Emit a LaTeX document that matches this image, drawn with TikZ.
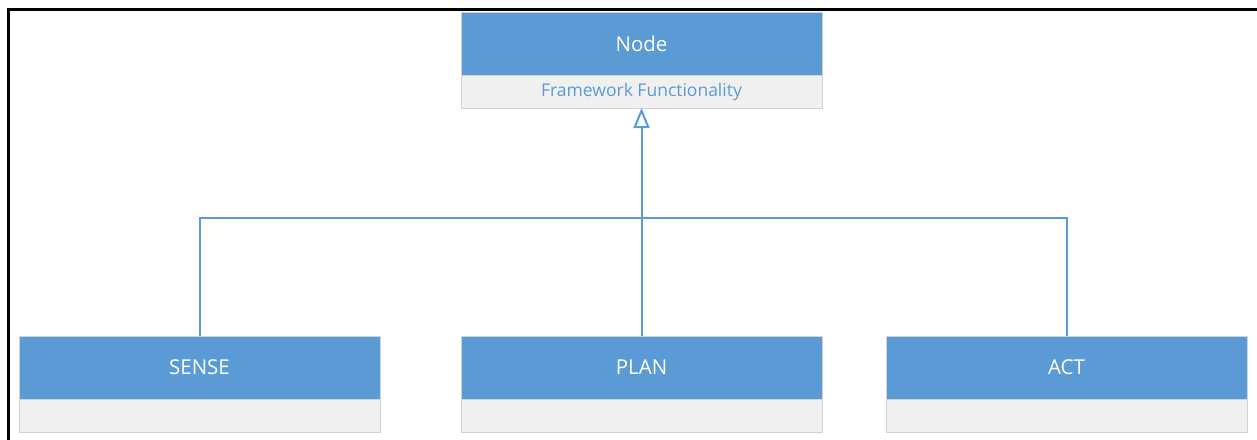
\documentclass[tikz,border=0pt]{standalone}
\usepackage{fontspec}
\setmainfont{Open Sans}
\usetikzlibrary{arrows.meta}
\definecolor{hdrblue}{HTML}{5B9BD5}
\definecolor{bodygray}{HTML}{F0F0F0}
\definecolor{edgegray}{HTML}{D2D2D2}
\begin{document}
\begin{tikzpicture}[x=1pt,y=-1pt,
  hdr/.style={draw=edgegray, line width=0.8pt, fill=hdrblue, minimum width=361pt, minimum height=63pt, inner sep=0pt, outer sep=0pt, text=white, font=\fontsize{20.5}{24}\selectfont},
  body/.style={draw=edgegray, line width=0.8pt, fill=bodygray, minimum width=361pt, minimum height=33pt, inner sep=0pt, outer sep=0pt, text=hdrblue, font=\fontsize{17.5}{20}\selectfont},
  conn/.style={draw=hdrblue, line width=2pt},
  gen/.style={conn, -{Triangle[open, length=20pt, width=16pt, line width=2pt]}}
]
\useasboundingbox (0,0) rectangle (1257,439);
\draw[black, line width=2.5pt] (8.5,440) -- (8.5,9.5) -- (1258,9.5);
% Node class
\node[hdr, anchor=north west] (nodeh) at (461,12) {Node};
\node[body, anchor=north] (nodeb) at (nodeh.south) {\raisebox{-1.5pt}{Framework Functionality}};
% Subclasses
\node[hdr, anchor=north west] (senseh) at (19,336) {SENSE};
\node[body, anchor=north] (senseb) at (senseh.south) {};
\node[hdr, anchor=north west] (planh) at (461,336) {PLAN};
\node[body, anchor=north] (planb) at (planh.south) {};
\node[hdr, anchor=north west] (acth) at (886,336) {ACT};
\node[body, anchor=north] (actb) at (acth.south) {};
\coordinate (bus) at (642,218);
% Connectors
\draw[conn] (senseh.north) -- (senseh.north |- bus) -- (acth.north |- bus) -- (acth.north);
\draw[gen] (planh.north) -- (nodeb.south);
\end{tikzpicture}
\end{document}
